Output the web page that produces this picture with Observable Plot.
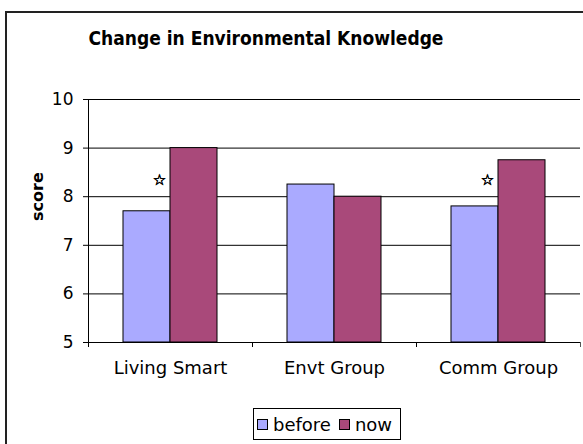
<!DOCTYPE html>
<html>
<head>
<meta charset="utf-8">
<script src="https://cdn.jsdelivr.net/npm/d3@7"></script>
<script src="https://cdn.jsdelivr.net/npm/@observablehq/plot@0.6"></script>
<style>
  html, body { margin: 0; padding: 0; background: #fff; }
  #wrap { position: relative; width: 583px; height: 444px; overflow: hidden; font-family: "DejaVu Sans", Verdana, sans-serif; }
  #frame { position: absolute; left: 5px; top: 11px; width: 700px; height: 700px; border-left: 2px solid #222; border-top: 2px solid #222; box-sizing: border-box; }
  #title { position: absolute; left: 0; top: 26px; width: 532px; text-align: center; font-family: "DejaVu Sans Condensed", "DejaVu Sans", sans-serif; font-weight: bold; font-size: 19px; line-height: 24px; color: #000; }
  #chart { position: absolute; left: 0; top: 0; }
  #legend { position: absolute; left: 253px; top: 408px; width: 148px; height: 32px; border: 1px solid #000; box-sizing: border-box; display: flex; align-items: center; font-size: 18px; color: #000; }
  .sw { width: 11px; height: 11px; border: 1px solid #000; box-sizing: border-box; margin-left: 3px; margin-right: 5px; }
  .item { display: flex; align-items: center; }
</style>
</head>
<body>
<div id="wrap">
  <div id="frame"></div>
  <div id="chart"></div>
  <div id="title"></div>
  <div id="legend"></div>
</div>
<script>
// ---- data ----
const titleText = "Change in Environmental Knowledge";
const yLabel = "score";
const groups = ["Living Smart", "Envt Group", "Comm Group"];
const seriesNames = ["before", "now"];
const beforeValues = [7.7, 8.25, 7.8];
const nowValues = [9.0, 8.0, 8.75];
const yTicks = [5, 6, 7, 8, 9, 10];
const starGroups = ["Living Smart", "Comm Group"];
const starLevels = [8.35, 8.35];
const starSymbol = "\u2606";
const colors = ["#AAAAFF", "#A9497A"];

// ---- build table ----
const rows = [];
groups.forEach((g, i) => {
  rows.push({group: g, series: seriesNames[0], value: beforeValues[i]});
  rows.push({group: g, series: seriesNames[1], value: nowValues[i]});
});
const stars = starGroups.map((g, i) => ({group: g, level: starLevels[i]}));

const W = 583, H = 444;
const mL = 88, mR = 3, mT = 99, mB = 102;
const band = (W - mL - mR) / groups.length; // 164
const barW = 47;
const outer = band / 2 - barW;             // 35
const frameH = H - mT - mB;

const chart = Plot.plot({
  width: W,
  height: H,
  marginLeft: mL,
  marginRight: mR,
  marginTop: mT,
  marginBottom: mB,
  style: {fontFamily: "DejaVu Sans, Verdana, sans-serif", fontSize: "17px", color: "#000", background: "transparent", overflow: "visible"},
  x: {domain: groups, padding: 0, axis: null},
  y: {domain: [yTicks[0], yTicks[yTicks.length - 1]], ticks: yTicks, tickFormat: "d", tickSize: 5, tickPadding: 10, label: null},
  color: {domain: seriesNames, range: colors},
  marks: [
    Plot.ruleY(yTicks.slice(1), {stroke: "#000", strokeWidth: 1}),
    Plot.barY(rows.filter(d => d.series === seriesNames[0]), {
      x: "group", y1: yTicks[0], y2: "value", fill: "series",
      stroke: "#000", strokeWidth: 1, insetLeft: outer, insetRight: band - outer - barW
    }),
    Plot.barY(rows.filter(d => d.series === seriesNames[1]), {
      x: "group", y1: yTicks[0], y2: "value", fill: "series",
      stroke: "#000", strokeWidth: 1, insetLeft: band - outer - barW, insetRight: outer
    }),
    Plot.ruleY([yTicks[0]], {stroke: "#000", strokeWidth: 1}),
    Plot.ruleX([groups[0]], {dx: -band / 2, stroke: "#000", strokeWidth: 1}),
    Plot.tickX(groups, {x: d => d, dx: -band / 2, insetTop: frameH, insetBottom: -5, stroke: "#000"}),
    Plot.tickX([groups[groups.length - 1]], {x: d => d, dx: band / 2, insetTop: frameH, insetBottom: -5, stroke: "#555"}),
    Plot.text(groups, {x: d => d, frameAnchor: "bottom", dy: 31, text: d => d, fontSize: 18, fill: "#000"}),
    Plot.text(stars, {x: "group", y: "level", text: () => starSymbol, dx: -11, fontSize: 15, fill: "#000", stroke: "#000", strokeWidth: 0.6}),
    Plot.text([yLabel], {frameAnchor: "left", dx: -51, rotate: -90, text: d => d, fontSize: 16, fontWeight: "bold", fill: "#000"})
  ]
});
document.getElementById("chart").appendChild(chart);

document.getElementById("title").textContent = titleText;

const legend = document.getElementById("legend");
seriesNames.forEach((s, i) => {
  const item = document.createElement("div");
  item.className = "item";
  const sw = document.createElement("div");
  sw.className = "sw";
  sw.style.background = colors[i];
  if (i > 0) sw.style.marginLeft = "8px";
  const t = document.createElement("span");
  t.textContent = s;
  item.appendChild(sw);
  item.appendChild(t);
  legend.appendChild(item);
});
</script>
</body>
</html>
